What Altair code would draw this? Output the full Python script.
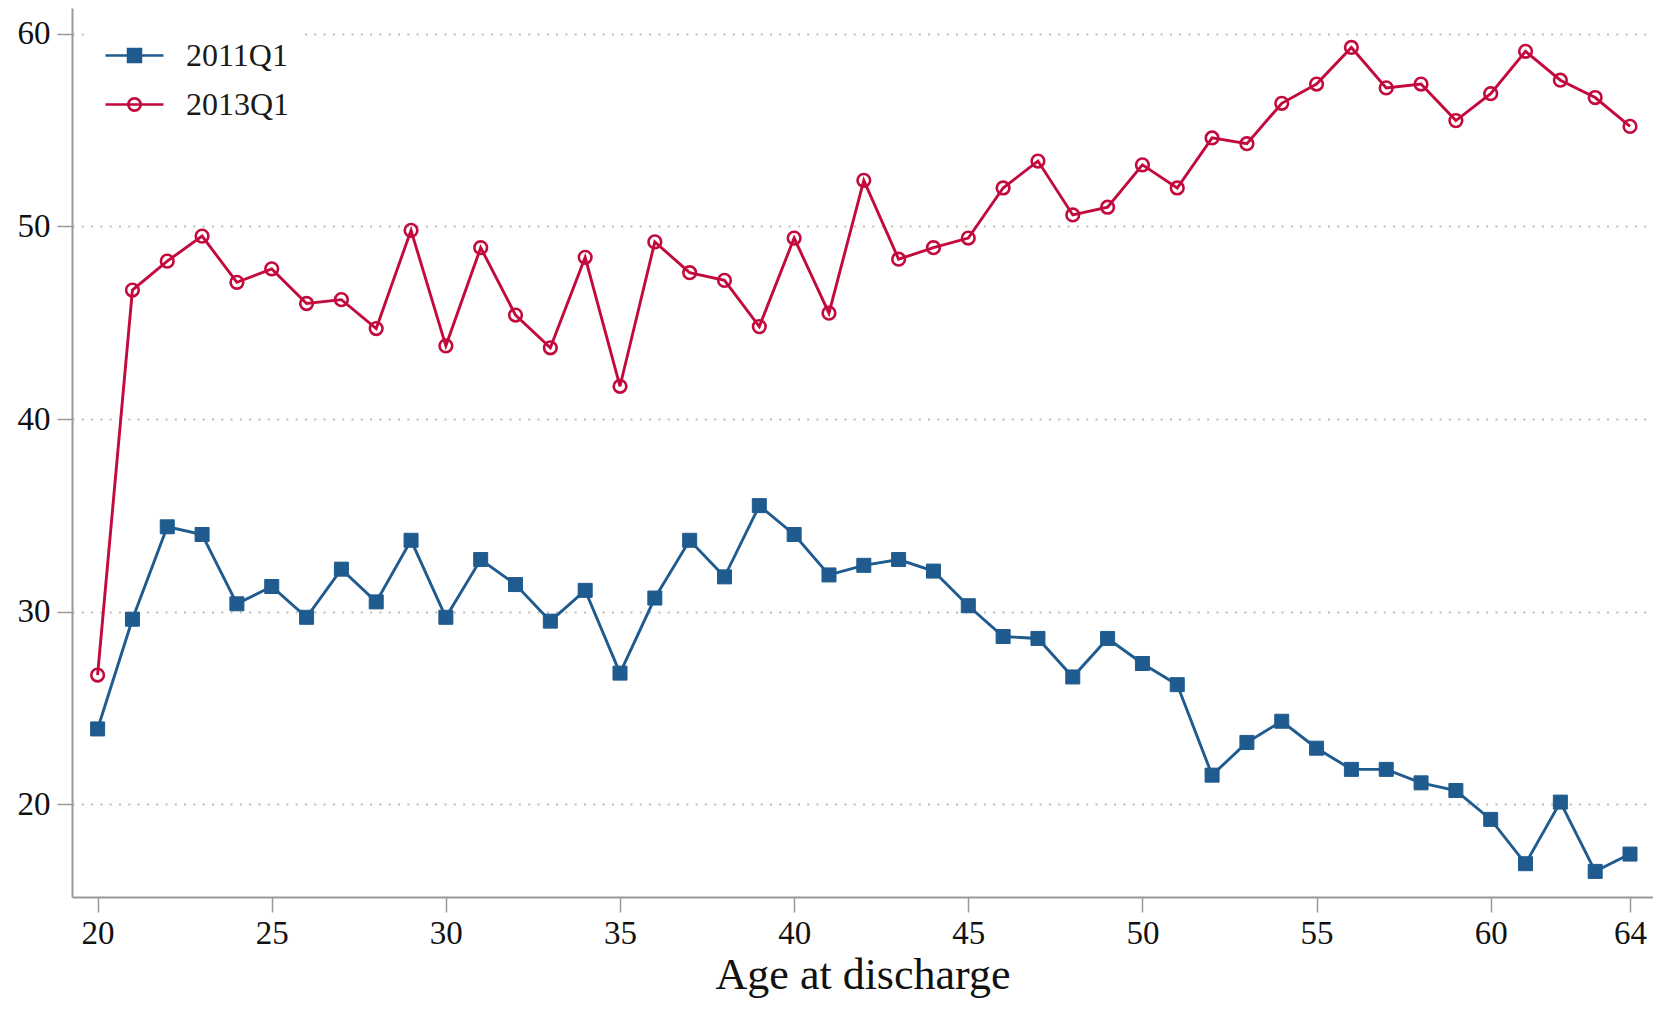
import altair as alt
import pandas as pd

ages = list(range(20, 65))
q2011 = [23.9, 29.6, 34.4, 34.0, 30.4, 31.3, 29.7, 32.2, 30.5, 33.7,
         29.7, 32.7, 31.4, 29.5, 31.1, 26.8, 30.7, 33.7, 31.8, 35.5,
         34.0, 31.9, 32.4, 32.7, 32.1, 30.3, 28.7, 28.6, 26.6, 28.6,
         27.3, 26.2, 21.5, 23.2, 24.3, 22.9, 21.8, 21.8, 21.1, 20.7,
         19.2, 16.9, 20.1, 16.5, 17.4]
q2013 = [26.7, 46.7, 48.2, 49.5, 47.1, 47.8, 46.0, 46.2, 44.7, 49.8,
         43.8, 48.9, 45.4, 43.7, 48.4, 41.7, 49.2, 47.6, 47.2, 44.8,
         49.4, 45.5, 52.4, 48.3, 48.9, 49.4, 52.0, 53.4, 50.6, 51.0,
         53.2, 52.0, 54.6, 54.3, 56.4, 57.4, 59.3, 57.2, 57.4, 55.5,
         56.9, 59.1, 57.6, 56.7, 55.2]
series = ["2011Q1", "2013Q1"]
colors = ["#1f5b8e", "#c30a3d"]
x_ticks = [20, 25, 30, 35, 40, 45, 50, 55, 60, 64]
y_ticks = [20, 30, 40, 50, 60]

df = pd.DataFrame({
    "age": ages + ages,
    "value": q2011 + q2013,
    "series": [series[0]] * len(ages) + [series[1]] * len(ages),
})

FONT = "Liberation Serif"
xscale = alt.Scale(domain=[19.265, 64.66], nice=False, zero=False)
yscale = alt.Scale(domain=[15.17, 61.35], nice=False, zero=False)

xaxis = alt.Axis(title="Age at discharge", values=x_ticks, grid=False,
                 tickSize=15, labelPadding=5, labelFlush=False,
                 labelOverlap=False, labelBound=False,
                 titleBaseline="alphabetic", titleY=91)
yaxis = alt.Axis(title=None, values=y_ticks, grid=True,
                 gridDash=[2, 7.3], gridColor="#bdbdbd", gridWidth=2,
                 tickSize=15, labelPadding=7, labelFlush=False,
                 labelOverlap=False, labelBound=False)

base = alt.Chart(df).encode(
    x=alt.X("age:Q", scale=xscale, axis=xaxis),
    y=alt.Y("value:Q", scale=yscale, axis=yaxis),
)

sq = "M-1.45,0H1.45M-0.32,-0.32H0.32V0.32H-0.32Z"
ci = "M-1.45,0H1.45M0.31,0A0.31,0.31,0,1,1,-0.31,0A0.31,0.31,0,1,1,0.31,0Z"

legend = alt.Legend(
    title=None, orient="none", legendX=14, legendY=16, padding=10,
    fillColor="white", symbolSize=1600, symbolStrokeWidth=2.7,
    symbolOffset=17, labelFont=FONT, labelFontSize=32, labelColor="#1a1a1a",
    labelOffset=30, rowPadding=11, symbolOpacity=1,
)

l1 = base.transform_filter(alt.datum.series == series[0]).mark_line(
    strokeWidth=2.9, color=colors[0])
l2 = base.transform_filter(alt.datum.series == series[1]).mark_line(
    strokeWidth=2.9, color=colors[1])

p1 = base.transform_filter(alt.datum.series == series[0]).mark_point(
    shape="square", filled=True, fill=colors[0], stroke=colors[0],
    strokeWidth=1, size=196, opacity=1)
p2 = base.transform_filter(alt.datum.series == series[1]).mark_point(
    shape="circle", filled=False, fill="transparent", stroke=colors[1],
    strokeWidth=2.6, size=160, opacity=1)

leg = base.transform_filter("false").mark_point(opacity=1).encode(
    shape=alt.Shape("series:N", scale=alt.Scale(domain=series, range=[sq, ci]), legend=legend),
    fill=alt.Fill("series:N", scale=alt.Scale(domain=series, range=[colors[0], "transparent"]), legend=legend),
    stroke=alt.Stroke("series:N", scale=alt.Scale(domain=series, range=colors), legend=legend),
)

chart = alt.layer(l1, p1, l2, p2, leg).properties(
    width=1581, height=889,
    autosize=alt.AutoSizeParams(type="none"),
    padding={"left": 64, "top": 0, "right": 0, "bottom": 103},
).configure_view(stroke=None).configure_axis(
    domainColor="#999999", domainWidth=2, tickColor="#999999", tickWidth=1.5,
    labelFont=FONT, labelFontSize=33, labelColor="#111111",
    titleFont=FONT, titleFontSize=44, titleFontWeight="normal", titleColor="#111111",
)

chart.save("out.html", embed_options={"renderer": "svg", "actions": False})
